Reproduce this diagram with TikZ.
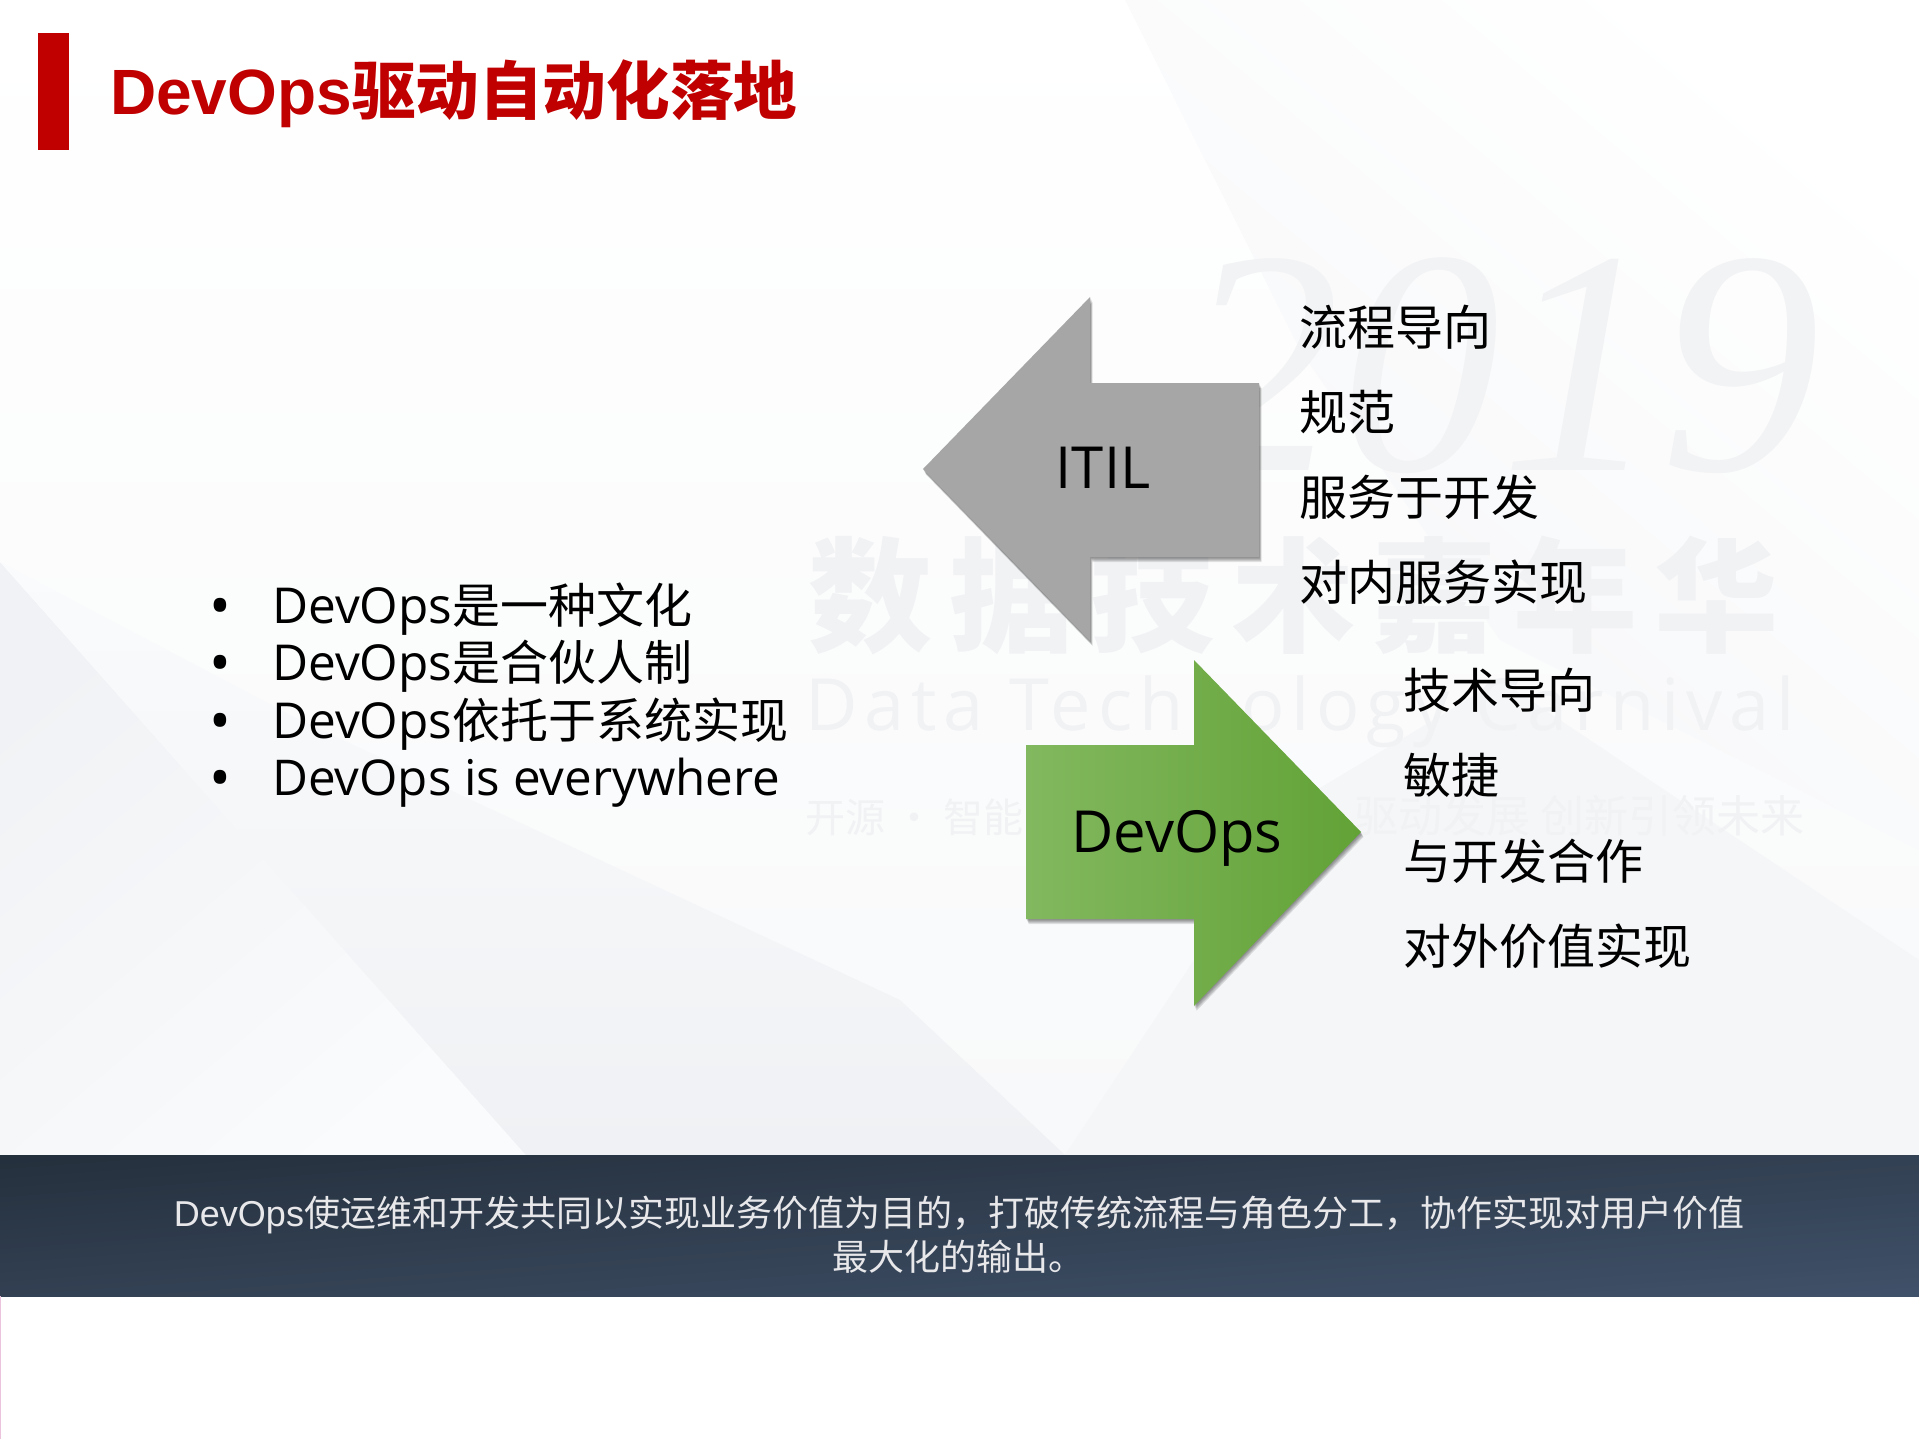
\documentclass[tikz,border=0pt]{standalone}
\usepackage{fontspec}
\setmainfont{Open Sans}
\newfontfamily\cjk{Noto Sans CJK SC}
\newfontfamily\arial{Liberation Sans}
\newfontfamily\latspaced{Open Sans}[LetterSpace=9.5]
\newfontfamily\ser{Liberation Serif}
\newcommand\fs[1]{\fontsize{#1}{#1}\selectfont}
\definecolor{barred}{HTML}{C00000}
\definecolor{wm}{HTML}{F1F2F4}
\definecolor{wmb}{HTML}{F2F3F4}
\definecolor{itilgrey}{HTML}{A6A6A6}
\definecolor{gl}{HTML}{82B85F}
\definecolor{gm}{HTML}{6DB041}
\definecolor{gr}{HTML}{62A236}
\definecolor{bandd}{HTML}{25303D}
\definecolor{bandl}{HTML}{405169}
\definecolor{bandtxt}{HTML}{E8E8EB}
\definecolor{pinkline}{HTML}{EBC3DC}
\definecolor{bgA}{HTML}{F8F9FA}
\definecolor{bgB}{HTML}{F5F6F8}
\definecolor{bgC}{HTML}{EFF1F4}
\definecolor{bgE}{HTML}{F1F2F5}
\definecolor{bgD}{HTML}{FAFBFC}
\tikzset{
  lab/.style={anchor=base west,inner sep=0pt,text=black},
  listtxt/.style={lab,font=\cjk\fs{48}},
  wmark/.style={anchor=base west,inner sep=0pt,text=wm},
  arrowshadow/.style={fill=black,opacity=.10,draw=none},
}
\newcommand\dv{{\rmfamily\fs{49.5}DevOps}}
\def\itilpath{(923,469) -- (1090,297) -- (1090,383) -- (1259,383) -- (1259,557) -- (1090,557) -- (1090,641) -- cycle}
\def\devpath{(1026,745) -- (1194,745) -- (1194,660) -- (1361,832) -- (1194,1006) -- (1194,919) -- (1026,919) -- cycle}
\begin{document}
\begin{tikzpicture}[x=1pt,y=-1pt]
\useasboundingbox (0,0) rectangle (1919,1439);
% background
\fill[white] (0,0) rectangle (1919,1439);
\shade[top color=white,bottom color=bgA] (0,0) rectangle (1919,1155);
\shade[top color=white,bottom color=bgB,shading angle=-40] (1125,0) -- (1919,0) -- (1919,850) -- (1500,640) -- (1300,350) -- cycle;
\fill[bgB] (1919,1155) -- (1919,960) -- (1500,680) -- (1300,800) -- (1065,1155) -- cycle;
\shade[top color=bgE,bottom color=bgD,shading angle=40] (0,562) -- (526,1155) -- (0,1155) -- cycle;
\shade[top color=bgD,bottom color=bgC] (0,562) -- (300,720) -- (900,1000) -- (1065,1155) -- (526,1155) -- cycle;
% watermark
\node[wmark,text=wmb,font=\ser\itshape\fs{320}] (wm2019) at (1180,470) {2019};
\node[wmark,font=\cjk\bfseries\fs{124}] (wmcn) at (808,642) {数\hspace{17pt}据\hspace{17pt}技\hspace{17pt}术\hspace{17pt}嘉\hspace{17pt}年\hspace{17pt}华};
\node[wmark,font=\latspaced\fs{72}] (wmen) at (805,730) {Data Technology Carnival};
\node[wmark,font=\cjk\fs{40}] (wmt1) at (805,832) {开源 · 智能};
\node[wmark,font=\cjk\fs{44}] (wmt2) at (1354,832) {驱动发展 创新引领未来};
% title
\fill[barred] (38,33) rectangle (69,150);
\node[anchor=base west,inner sep=0pt,text=barred] (title) at (110,115) {\arial\bfseries\fs{64}DevOps\cjk\bfseries\fs{63.6}驱动自动化落地};
% bullets
\foreach \n/\y in {a/626,b/683,c/741,d/798}{\node[anchor=base,inner sep=0pt,text=black,font=\rmfamily\fs{58}] (bul\n) at (220,\y) {•};}
\node[listtxt] (la) at (272,623) {\dv 是一种文化};
\node[listtxt] (lb) at (272,680) {\dv 是合伙人制};
\node[listtxt] (lc) at (272,738) {\dv 依托于系统实现};
\node[lab,font=\rmfamily\fs{49.3}] (ld) at (272,795) {DevOps is everywhere};
% arrows
\foreach \d in {1,...,5}{
  \fill[arrowshadow,shift={(.5*\d,1*\d)}] \itilpath;
  \fill[arrowshadow,shift={(.5*\d,1*\d)}] \devpath;
}
\fill[itilgrey] \itilpath;
\shade[left color=gl,middle color=gm,right color=gr] \devpath;
\node[inner sep=0pt,font=\rmfamily\fs{58},text=black] (itil) at (1103,468) {ITIL};
\node[inner sep=0pt,font=\rmfamily\fs{58},text=black,anchor=base] (dev) at (1177,852) {DevOps};
% right lists
\node[listtxt] (r1) at (1299,345) {流程导向};
\node[listtxt] (r2) at (1299,430) {规范};
\node[listtxt] (r3) at (1299,515) {服务于开发};
\node[listtxt] (r4) at (1299,600) {对内服务实现};
\node[listtxt] (s1) at (1403,708) {技术导向};
\node[listtxt] (s2) at (1403,793) {敏捷};
\node[listtxt] (s3) at (1403,879) {与开发合作};
\node[listtxt] (s4) at (1403,964) {对外价值实现};
% band: gradient whose lines of equal colour run along the band's anti-diagonal
\begin{scope}
\clip (0,1155) rectangle (1919,1296);
\foreach \i in {0,...,60}{
  \pgfmathsetmacro\pc{min(100,\i*5/3)}
  \pgfmathsetmacro\yz{1155+\i*4.7}
  \pgfmathsetmacro\yy{\yz-141}
  \fill[bandl!\pc!bandd] (0,\yz) -- (1919,\yy) -- (1919,1500) -- (0,1500) -- cycle;
}
\end{scope}
\node[anchor=base,inner sep=0pt,text=bandtxt] (b1) at (959,1226) {\arial\fs{36}DevOps\cjk 使运维和开发共同以实现业务价值为目的，打破传统流程与角色分工，协作实现对用户价值};
\node[anchor=base,inner sep=0pt,text=bandtxt,font=\cjk\fs{36}] (b2) at (958,1270) {最大化的输出。};
% left edge line
\draw[pinkline,line width=1pt] (0.5,1296) -- (0.5,1439);
\end{tikzpicture}
\end{document}
